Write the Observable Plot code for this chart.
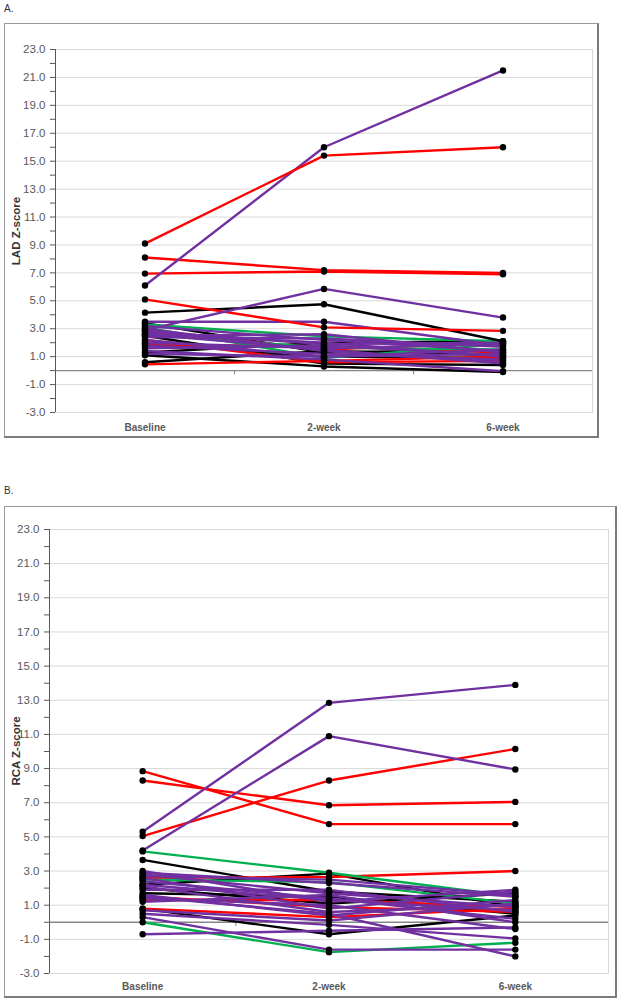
<!DOCTYPE html>
<html><head><meta charset="utf-8">
<script src="https://cdn.jsdelivr.net/npm/d3@7"></script>
<script src="https://cdn.jsdelivr.net/npm/@observablehq/plot@0.6"></script>
<style>
body{margin:0;background:#fff;font-family:"Liberation Sans",Arial,sans-serif;}
.page{position:relative;width:619px;height:1000px;}
.tag{position:absolute;font-size:10px;color:#333;}
.box{position:absolute;box-sizing:border-box;border:1px solid #9a9a9a;border-right:2px solid #7a7a7a;border-bottom:2px solid #7a7a7a;background:#fff;}
.box svg{position:absolute;left:0;top:0;}
.ylab{position:absolute;transform:translate(-50%,-50%) rotate(-90deg);white-space:nowrap;font-weight:bold;font-size:11.5px;color:#333;}
</style></head><body>
<div class="page">
  <div class="tag" style="left:4px;top:3px">A.</div>
  <div id="boxA" class="box" style="left:4px;top:23px;width:595px;height:415px"></div>
  <div class="ylab" style="left:16px;top:231px">LAD Z-score</div>
  <div class="tag" style="left:4px;top:485px">B.</div>
  <div id="boxB" class="box" style="left:4px;top:506px;width:613px;height:492px"></div>
  <div class="ylab" style="left:16px;top:751px">RCA Z-score</div>
</div>
<script>
// Categories and ticks
const timepoints = ["Baseline", "2-week", "6-week"];
const majorTicks = [-3, -1, 1, 3, 5, 7, 9, 11, 13, 15, 17, 19, 21, 23];
const minorTicks = [-2, 0, 2, 4, 6, 8, 10, 12, 14, 16, 18, 20, 22];
const groupNames = ["K", "R", "G", "P"];
const groupColors = ["#000000", "#ff0000", "#00b050", "#7030a0"];

// Panel A: LAD Z-score per patient (K black, R red, G green, P purple)
const ladGroup = ["K","K","K","K","K","K","R","R","R","R","G","G","G",
  "P","P","P","P","P","P","P","P","P","P","P","P","P","P",
  "K","R","P","R","R","P","R"];
const ladBaseline = [1.1,0.6,3.4,2.5,1.3,2.0,0.45,1.85,2.2,2.9,3.3,3.1,2.6,
  3.2,2.8,2.6,2.4,2.2,2.0,1.8,1.6,1.4,2.7,3.0,1.2,2.5,3.5,
  4.15,5.1,2.9,6.95,8.1,6.1,9.1];
const ladWeek2 = [0.3,1.4,1.3,0.5,2.0,1.0,0.7,1.75,0.6,1.5,2.45,0.9,1.65,
  2.2,1.9,1.5,2.3,1.0,1.6,1.2,1.8,0.8,2.0,1.4,1.0,2.6,3.5,
  4.75,3.1,5.85,7.1,7.2,16.0,15.4];
const ladWeek6 = [-0.1,1.1,1.5,0.4,2.1,0.9,1.0,1.3,0.7,2.0,2.1,1.9,1.5,
  1.4,2.0,0.5,1.7,1.2,1.9,0.8,1.1,-0.05,1.0,0.6,1.5,1.3,1.8,
  2.1,2.85,3.8,6.9,7.0,21.5,16.0];

// Panel B: RCA Z-score per patient
const rcaGroup = ["K","K","K","K","K","R","R","R","R","G","G","G",
  "P","P","P","P","P","P","P","P","P","P","P","P","P","P","P","P","P",
  "R","R","R","P","P"];
const rcaBaseline = [0.8,2.2,1.7,2.0,3.65,1.5,0.8,1.3,2.6,0.0,2.5,4.15,
  3.0,2.9,2.8,2.6,2.4,2.1,1.9,1.6,1.4,1.2,0.7,0.5,2.7,2.2,0.3,-0.7,1.5,
  8.3,8.85,5.05,4.2,5.3];
const rcaWeek2 = [-0.7,2.85,1.5,1.1,1.8,0.9,0.3,1.3,2.65,-1.75,2.35,2.9,
  1.2,2.3,1.7,0.8,1.4,0.6,1.9,0.4,1.0,1.6,0.1,-0.15,2.5,1.3,-1.6,-0.5,0.5,
  6.85,5.75,8.3,10.9,12.85];
const rcaWeek6 = [0.4,0.9,0.5,1.7,1.2,0.6,0.8,0.9,3.0,-1.2,1.1,1.5,
  1.9,1.5,0.9,1.8,0.2,1.0,0.6,1.3,-0.4,0.0,1.1,-0.95,1.6,0.7,-1.6,-0.3,-2.0,
  7.05,5.75,10.15,8.95,13.9];

function panel(el, group, b, w2, w6, dims) {
  const rows = [];
  group.forEach((g, i) => {
    [b[i], w2[i], w6[i]].forEach((v, t) => rows.push({id: i, t, v, g}));
  });
  const chart = Plot.plot({
    width: dims.width, height: dims.height,
    marginLeft: dims.ml, marginRight: dims.mr, marginTop: dims.mt, marginBottom: dims.mb,
    style: {fontFamily: '"Liberation Sans", Arial, sans-serif', fontSize: "11.5px", color: "#595959", background: "transparent", overflow: "visible"},
    x: {domain: [-0.5, 2.5], axis: null},
    y: {domain: [-3, 23], axis: null},
    color: {type: "ordinal", domain: groupNames, range: groupColors},
    marks: [
      Plot.gridY(majorTicks, {stroke: "#d9d9d9", strokeOpacity: 1}),
      Plot.frame({stroke: "#d9d9d9"}),
      Plot.ruleY([0], {stroke: "#868686", strokeWidth: 1.3}),
      Plot.ruleX([0.5, 1.5], {y1: 0, y2: dims.tick, stroke: "#868686"}),
      Plot.axisY(minorTicks, {tickSize: 5, tickFormat: () => "", stroke: "#595959", label: null}),
      Plot.axisY(majorTicks, {tickSize: 5, tickPadding: dims.tp, tickFormat: d => d.toFixed(1), stroke: "#595959", fill: "#595959", label: null}),
      Plot.axisX([0, 1, 2], {tickSize: 0, tickPadding: dims.xp, tickFormat: i => timepoints[i], fontWeight: "bold", fontSize: 10, fill: "#595959", label: null}),
      Plot.ruleX([-0.5], {stroke: "#595959"}),
      Plot.line(rows, {x: "t", y: "v", z: "id", stroke: "g", strokeWidth: 2.4}),
      Plot.dot(rows, {x: "t", y: "v", r: 3.2, fill: "black"})
    ]
  });
  document.getElementById(el).appendChild(chart);
}

panel("boxA", ladGroup, ladBaseline, ladWeek2, ladWeek6,
  {width: 590, height: 411, ml: 50, mr: 3, mt: 25, mb: 23, tick: -0.3, tp: 5, xp: 11});
panel("boxB", rcaGroup, rcaBaseline, rcaWeek2, rcaWeek6,
  {width: 609, height: 488, ml: 44, mr: 6, mt: 22, mb: 22, tick: -0.25, tp: 5, xp: 9});
</script>
</body></html>
